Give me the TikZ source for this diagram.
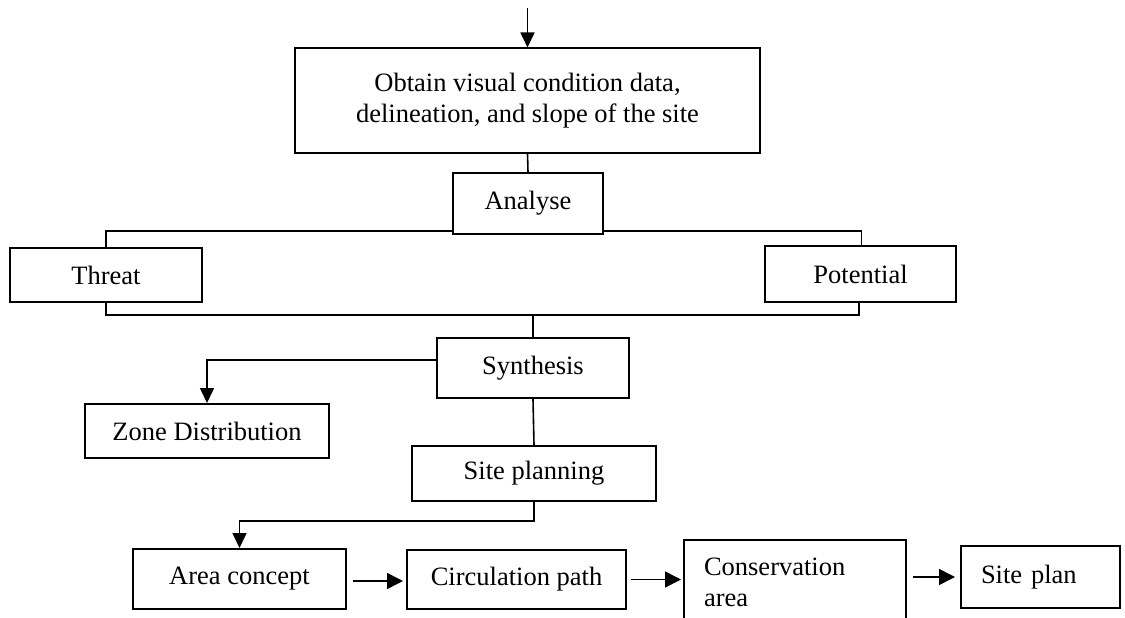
\documentclass[tikz,border=0pt]{standalone}
\usepackage{fontspec}
\setmainfont{Liberation Serif}
\usetikzlibrary{arrows.meta,calc}
\begin{document}
\begin{tikzpicture}[x=1pt,y=-1pt,
  box/.style={draw, line width=2pt, inner sep=0pt, align=center,
    font=\fontsize{26.5}{31}\selectfont},
  conn/.style={line width=1.6pt},
  arr/.style={conn, -{Triangle[length=15pt,width=14pt]}}]
\useasboundingbox (0,0) rectangle (1125,618);
\clip (0,0) rectangle (1125,618);
% nodes
\node[box, minimum width=465pt, minimum height=104pt] (top) at (527.5,100.5)
  {Obtain visual condition data,\\delineation, and slope of the site};
\node[box, minimum width=150pt, minimum height=61pt] (analyse) at (528,203.5) {Analyse};
\node[box, minimum width=192pt, minimum height=54pt] (threat) at (106,275) {Threat};
\node[box, minimum width=191pt, minimum height=56pt] (potential) at (860.5,274) {Potential};
\node[box, minimum width=192pt, minimum height=60pt] (synthesis) at (533,368) {Synthesis};
\node[box, minimum width=244pt, minimum height=54pt] (zone) at (207,431) {Zone Distribution};
\node[box, minimum width=244pt, minimum height=55pt] (siteplanning) at (534,473.5) {Site planning};
\node[box, minimum width=213pt, minimum height=60pt] (area) at (239.5,579) {Area concept};
\node[box, minimum width=219pt, minimum height=59pt] (circ) at (516.5,579.5) {Circulation path};
\node[box, anchor=north west, align=left, text width=182pt, inner xsep=20pt,
  minimum height=85pt] (cons) at (683,539) {Conservation\\area};
\node[box, align=left, text width=119pt, inner xsep=20pt, minimum height=62pt]
  (siteplan) at (1040.5,577) {Site plan};
% connectors
\coordinate (start) at (527.5,8);
\draw[arr] (start) -- (top.north);
\draw[conn] (top.south) -- (analyse.north);
\draw[conn] ([yshift=4pt]analyse.south west) -| (threat.north);
\draw[conn] ([yshift=4pt]analyse.south east) -| ([xshift=1pt]potential.north);
\coordinate (merge) at (synthesis.north |- 0,315);
\draw[conn] (threat.south) |- (merge) -| ([xshift=-1.5pt]potential.south);
\draw[conn] (merge) -- (synthesis.north);
\draw[arr] ([yshift=8pt]synthesis.west) -| (zone.north);
\draw[conn] (synthesis.south) -- (siteplanning.north);
\draw[arr] (siteplanning.south) -- ++(0,19) -| (area.north);
\draw[arr, -{Triangle[length=16pt,width=16pt]}, shorten <=6pt, shorten >=3pt] ([yshift=-2pt]area.east) -- ([yshift=-2pt]area.east -| circ.west);
\draw[arr, -{Triangle[length=16pt,width=16pt]}, shorten <=4pt, shorten >=2pt] (circ.east) -- (circ.east -| cons.west);
\draw[arr, -{Triangle[length=16pt,width=16pt]}, shorten <=6pt, shorten >=5pt] (siteplan.west -| cons.east) -- (siteplan.west);
\end{tikzpicture}
\end{document}
